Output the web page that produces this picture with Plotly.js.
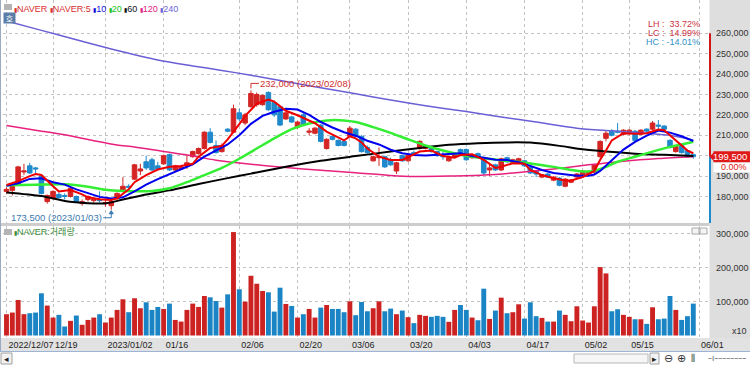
<!DOCTYPE html>
<html><head><meta charset="utf-8">
<script src="https://cdn.plot.ly/plotly-3.0.1.min.js"></script>
<style>html,body{margin:0;padding:0;background:#fff;}#chart{width:750px;height:365px;}</style>
</head><body><div id="chart"></div>
<script>
// ---- data (prices in thousand won, volume in thousand units of x10 shares) ----
const dates = [
'2022/12/07','2022/12/08','2022/12/09','2022/12/12','2022/12/13','2022/12/14','2022/12/15','2022/12/16','2022/12/19','2022/12/20','2022/12/21','2022/12/22','2022/12/23','2022/12/26','2022/12/27','2022/12/28','2022/12/29',
'2023/01/02','2023/01/03','2023/01/04','2023/01/05','2023/01/06','2023/01/09','2023/01/10','2023/01/11','2023/01/12','2023/01/13','2023/01/16','2023/01/17','2023/01/18','2023/01/19','2023/01/20','2023/01/25','2023/01/26','2023/01/27','2023/01/30','2023/01/31',
'2023/02/01','2023/02/02','2023/02/03','2023/02/06','2023/02/07','2023/02/08','2023/02/09','2023/02/10','2023/02/13','2023/02/14','2023/02/15','2023/02/16','2023/02/17','2023/02/20','2023/02/21','2023/02/22','2023/02/23','2023/02/24','2023/02/27','2023/02/28',
'2023/03/02','2023/03/03','2023/03/06','2023/03/07','2023/03/08','2023/03/09','2023/03/10','2023/03/13','2023/03/14','2023/03/15','2023/03/16','2023/03/17','2023/03/20','2023/03/21','2023/03/22','2023/03/23','2023/03/24','2023/03/27','2023/03/28','2023/03/29','2023/03/30','2023/03/31',
'2023/04/03','2023/04/04','2023/04/05','2023/04/06','2023/04/07','2023/04/10','2023/04/11','2023/04/12','2023/04/13','2023/04/14','2023/04/17','2023/04/18','2023/04/19','2023/04/20','2023/04/21','2023/04/24','2023/04/25','2023/04/26','2023/04/27','2023/04/28',
'2023/05/02','2023/05/03','2023/05/04','2023/05/08','2023/05/09','2023/05/10','2023/05/11','2023/05/12','2023/05/15','2023/05/16','2023/05/17','2023/05/18','2023/05/19','2023/05/22','2023/05/23','2023/05/24','2023/05/25','2023/05/26','2023/05/30','2023/05/31'];

const openK = [
182.5,183,186,192,195,194,190,177.5,179,181,
180.5,180,180,176.5,178.5,178,178.5,176.5,175.5,179,
183,185,188.5,192.5,197,198,195,196,200.5,193,
193.5,195,199.5,201,203.5,211.5,205,202,213,211.5,
221,216,224,225,225,231,226,224,218,219,
214,220,211.5,211,215,203.5,209.5,207.5,207,209.5,
213,209.5,204,197.5,199,199.5,198,192.5,200,197.5,
201.5,203.5,203.5,204,202,200,197.5,199.5,203,203,
199,201,199,193,195.5,193,199,196.5,197,197.5,
194.5,192.5,189.5,191,188,189,185,187,189.5,190.5,
191,192,199.5,208.5,212,212,210.5,211,212,210.5,
213,213,215,214.5,207.5,202,205,202.5,200.5];
const highK = [
184.5,185.5,195,196,196.5,194.5,190.5,181,183,182,
181.5,185,180.5,178.5,180.5,179.5,182.5,178.5,178,182,
189.5,186,196,196,200,199,197,200.5,201,195.5,
195.5,200.5,202.5,204,212,213.5,207.5,206,213.5,225,
223,221,232,231,230,231.5,227,224.5,221.5,219.5,
217,221,213.5,214,215.5,208.5,210,208,207.5,214.5,
213.5,210,205,200,204,200,199,197,200.5,200.5,
202.5,207.5,205,204.5,202.5,202,199.5,201,203.5,203.5,
201,201.5,199.5,196,196,199,199.5,198.5,199,198,
195,193,191,191.5,190,189.5,189,188.5,191.5,193,
192.5,196,207.5,212.5,213,216,213,213,212.5,213,
213.5,217,217.5,215,208,205,205.5,203,201];
const lowK = [
181.5,180.5,185.5,190.5,191,191.5,181,176.5,178.5,179,
178.5,179.5,177,175.5,177.5,177,177,175,173.5,178,
182.5,183,188,190.5,193,192.5,193,195.5,192.5,192,
193,193.5,199,200.5,203,206,201,201.5,211.5,211,
217,215,223.5,224,224.5,222,219,214.5,217.5,216,
213,214.5,210,210.5,206.5,203,207.5,204.5,204.5,209,
209,201.5,201,197,195,194,195,191,197,197,
200.5,203,203,201.5,199.5,198,197,199,200,197.5,
198.5,198.5,190.5,190,192.5,192.5,196.5,196,196.5,194.5,
191,189.5,189,189,187.5,185,184.5,186.5,189,190,
190.5,190.5,199,207,209.5,211,210,210,206.5,210,
211.5,212.5,212,212.5,203.5,201.5,201,199,198.5];
const closeK = [
183.5,185,194.5,192.5,191.5,193.5,181.5,180.5,182.5,179.5,
180,184,177.5,177.5,180,178.5,178,177,177.5,181.5,
185,184.5,195.5,193.5,194,193,193.5,200,193,195,
194.5,196.5,202,203.5,211.5,206.5,201.5,205,212,223,
218,220,230.5,230,229.5,222.5,220,215,221,216.5,
216.5,215,212,213.5,207,208,208,205,205,213.5,
209.5,202,201.5,199.5,199.5,194.5,195.5,196.5,197.5,200,
201,207,204.5,202,200,199.5,199,200.5,200.5,198,
200.5,199,191.5,194,193,198.5,197,198,198.5,195,
191.5,191,190.5,189.5,189.5,185.5,188.5,188,191,192.5,
192,195.5,207,211,210,211.5,212.5,212.5,207.5,212.5,
212,216,214.5,213,204,204.5,201.5,199.5,199.5];
const volumeK = [
62.9,67.8,105,63,65.8,67.8,124.7,88.4,53,61,
26.7,43.3,59,31.6,46,53,62.9,38.3,53,75.6,
107,68.8,110,80.5,98.1,75.6,84.4,78.5,94.2,46,
41.1,75.6,94.2,84.4,116.7,112.8,102,82.4,121.6,305.6,
136.5,100,176.5,153,131.5,127.6,70.6,141.2,93.2,87.3,
53,62.9,78.5,53,82.4,90.2,78.5,78.5,68.8,101,
60,99,71.6,80.5,101,71.6,79.5,62.9,73.7,54.1,
36.5,61,58,55.1,58,55.1,40.4,75.6,90.2,75.6,
53,45.1,138.3,49,73.7,111.8,65.8,68.8,92.2,50,
98.1,57,52,41.1,41.1,73.7,61,42.2,86.3,44.2,
38.3,86.3,202,183.4,71.6,77.5,61,55.1,48,48,
34.3,83.4,48,50,116.7,75.6,46,57,94.2];

// moving averages (trading-day index, thousand won)
const ma5Day = [0,2,4,5,6,7,8,9,11,13,14,16,18,19,21,22,24,26,28,30,32,33,35,37,38,40,41,43,45,46,48,50,51,53,55,57,58,59,60,61,62,64,66,68,70,71,73,75,77,78,80,82,84,85,87,89,90,92,94,96,97,99,101,102,103,104,106,108,110,112,113,114,116,117,118];
const ma5Val = [185.6,187.5,190,191,190.5,187.5,185,182.5,183.2,181,179.6,178.6,178.3,179.1,183.5,187,190.5,193.2,194.6,194.9,196,199.5,203.8,204.8,208,215.5,219.5,225.5,227.5,226.5,222,219.8,218.5,215.9,211.8,208.8,207.5,209.5,208.5,206.5,203.5,199.5,197.9,197.9,200.5,202,202.5,199.8,199,200.3,200.7,197.9,194,194.6,196.3,196,193,190.5,188.9,187.8,187.8,189.5,192.5,198,202.5,207.5,211,210.8,211,212.8,212.5,210,205,202.5,201.2];
const ma10Day = [0,2,4,6,8,10,12,14,16,18,20,22,24,26,28,30,32,34,36,38,40,42,44,46,48,50,52,54,56,58,60,62,64,66,68,70,72,74,76,78,80,82,84,86,88,90,92,94,96,98,100,101,102,104,106,108,110,112,114,116,118];
const ma10Val = [185.2,186.5,188.6,188.9,187,185.8,183.5,181.5,179.8,179,179.6,182.5,185.8,188.5,191,193.5,195.8,199.5,202.5,205.5,210,215.6,219.5,221.5,223,222.6,220,216.5,213.8,211.5,209.8,207.3,205.5,202.9,201.2,200.3,200.1,200.3,200.8,201.2,199.8,199,198,197.9,196.8,195,193,191.5,190.8,190.2,190.2,190.8,192.5,197.8,203,206.8,209.8,212.3,211.3,209.5,207.2];
const ma20Day = [0,5,10,14,17,20,25,28,31,34,37,40,43,46,49,52,55,58,60,63,66,69,72,75,78,82,86,90,94,97,99,101,103,105,108,111,114,116,118];
const ma20Val = [185.5,185.8,186,184.8,183.3,182.7,182.7,184,187,190.5,194,198.5,203.5,208.5,213,215.8,217.3,217.3,216.5,214,211.2,208,205,202.5,200.5,198.7,197.5,196.2,194.5,193,192.3,192.5,194.5,197,199.5,202,204.3,205.5,206.8];
const ma60Day = [0,6,10,14,17,20,24,28,33,38,42,48,54,60,66,71,76,81,86,90,95,99,103,108,113,118];
const ma60Val = [182,180.2,177.8,176.7,176.6,178.5,181,183,186.1,189,191.2,194.6,197.5,199.8,202,203.8,205.3,206.1,206.5,206.4,204.8,203.1,202,201,200.4,199.9];
const ma120Day = [0,5,10,15,19,22,27,31,36,42,48,54,60,66,70,76,82,88,94,100,106,112,118];
const ma120Val = [214.8,212.5,210.2,207.3,205.2,204.3,202,200.3,197.8,195.8,194.2,192.8,191.6,190.3,189.8,190,190.5,191.8,193.5,195.5,197.3,198.6,199.5];
const ma240Day = [0,6,12,18,26,32,37,42,48,54,60,66,72,79,85,91,98,104,110,114,118];
const ma240Val = [266,261.4,256.8,252.3,246.9,244,241.8,239.4,236.3,233.3,230.3,227.3,224.5,221.6,219,216.5,213.5,212.2,211,210,207.6];

const tickDates = ['2022/12/07','2022/12/19','2023/01/02','2023/01/16','2023/02/06','2023/02/20','2023/03/06','2023/03/20','2023/04/03','2023/04/17','2023/05/02','2023/05/15','2023/06/01'];
const tickText  = ['2022/12/07','12/19','2023/01/02','01/16','02/06','02/20','03/06','03/20','04/03','04/17','05/02','05/15','06/01'];
const priceTicks = [180000,190000,200000,210000,220000,230000,240000,250000,260000];
const volumeTicks = [100000,200000,300000];
const rangeBarTop = 260000;

// ---- derived ----
const K = 1000;
const xs = dates.map((d,i)=>i);
const O = openK.map(v=>v*K), H = highK.map(v=>v*K), L = lowK.map(v=>v*K), C = closeK.map(v=>v*K);
const V = volumeK.map(v=>v*K);
const up = C.map((c,i)=>c>=O[i]);
const RED = '#d42424', BLUE = '#1f89cc';
const n = C.length, last = C[n-1], prev = C[n-2];
const maxH = Math.max(...H), iMax = H.indexOf(maxH);
const minL = Math.min(...L), iMin = L.indexOf(minL);
const fmt = v => v.toLocaleString('en-US');
const pct = v => (v>=0?'\u00a0':'') + v.toFixed(2) + '%';
const tickPos = tickDates.map(d => { const k = dates.indexOf(d); return k<0 ? n : k; });
// the current-price box covers the nearest price label, as in the original
const priceTickText = priceTicks.map(v => Math.abs(v-last) < 4000 ? '' : fmt(v));

const FONT = '"Liberation Sans Narrow","Arial Narrow","Liberation Sans","Noto Sans CJK KR",sans-serif';
const px = X => (X-3)/706;
const py = Y => (338-Y)/338;

function maTrace(days, vals, color, width, shape){
  return {type:'scatter', mode:'lines', x:days, y:vals.map(v=>v*K), xaxis:'x', yaxis:'y',
    line:{color:color, width:width, shape:shape||'linear', smoothing:0.8}, hoverinfo:'skip'};
}

const traces = [
  {type:'bar', x:xs, y:V, xaxis:'x', yaxis:'y2', width:0.84,
   marker:{color:up.map(u=>u?'#cc2222':'#1a84c4'), line:{width:0}}, hoverinfo:'skip'},
  {type:'candlestick', x:xs, open:O, high:H, low:L, close:C, xaxis:'x', yaxis:'y',
   increasing:{line:{color:RED,width:1}, fillcolor:RED},
   decreasing:{line:{color:BLUE,width:1}, fillcolor:BLUE},
   whiskerwidth:0, hoverinfo:'skip'},
  maTrace(ma240Day, ma240Val, '#6b5fd6', 1.5, 'spline'),
  maTrace(ma120Day, ma120Val, '#e8207e', 1.5, 'spline'),
  maTrace(ma60Day, ma60Val, '#000000', 2, 'spline'),
  maTrace(ma20Day, ma20Val, '#33ee33', 2.5, 'spline'),
  maTrace(ma10Day, ma10Val, '#0000ee', 2, 'linear'),
  maTrace(ma5Day, ma5Val, '#ee0000', 2, 'linear')
];

const grid = {showgrid:true, gridcolor:'#c2c2c2', griddash:'dot', gridwidth:1, zeroline:false, showline:false, ticks:'', fixedrange:true};

const shapes = [
  {type:'rect', xref:'paper', yref:'paper', x0:px(709.5), x1:px(751), y0:py(338), y1:py(-1), fillcolor:'#dedede', line:{width:0}, layer:'below'},
  {type:'rect', xref:'paper', yref:'paper', x0:px(-1), x1:px(751), y0:py(351), y1:py(338), fillcolor:'#e2e2e2', line:{width:0}, layer:'below'},
  {type:'rect', xref:'paper', yref:'paper', x0:px(-1), x1:px(709.5), y0:py(226), y1:py(223), fillcolor:'#cdcdcd', line:{width:0}, layer:'above'},
  {type:'line', xref:'paper', yref:'paper', x0:px(-1), x1:px(751), y0:py(351.5), y1:py(351.5), line:{color:'#9db4d6', width:1}},
  {type:'line', xref:'paper', yref:'paper', x0:px(0.5), x1:px(0.5), y0:py(0), y1:py(351), line:{color:'#9aa9c4', width:1}},
  {type:'line', xref:'paper', yref:'y', x0:px(710), x1:px(710), y0:rangeBarTop, y1:last, line:{color:'#d01818', width:2}},
  {type:'line', xref:'paper', yref:'y', x0:px(710), x1:px(710), y0:last, y1:167000, line:{color:'#1f89cc', width:2}},
  {type:'rect', xref:'paper', yref:'y', xsizemode:'pixel', ysizemode:'pixel', xanchor:px(709.5), yanchor:last, x0:4, x1:42, y0:-5.5, y1:5.5, fillcolor:'#e01818', line:{width:0}},
  {type:'path', xref:'paper', yref:'y', xsizemode:'pixel', ysizemode:'pixel', xanchor:px(709.5), yanchor:last, path:'M0,0 L5,5 L5,-5 Z', fillcolor:'#e01818', line:{width:0}},
  {type:'rect', xref:'paper', yref:'y', xsizemode:'pixel', ysizemode:'pixel', xanchor:px(709.5), yanchor:last, x0:4, x1:42, y0:-15.5, y1:-6, fillcolor:'#ffffff', line:{width:0}},
  // high / low connectors
  {type:'path', xref:'x', yref:'y', xsizemode:'pixel', ysizemode:'pixel', xanchor:iMax, yanchor:maxH, path:'M0,2 L0,7 L8,7', line:{color:'#d03030', width:1}},
  {type:'path', xref:'x', yref:'y', xsizemode:'pixel', ysizemode:'pixel', xanchor:iMin, yanchor:minL, path:'M0,-1 L0,-8 L-8,-8', line:{color:'#3a7ab0', width:1}},
  {type:'path', xref:'x', yref:'y', xsizemode:'pixel', ysizemode:'pixel', xanchor:iMin, yanchor:minL, path:'M-2,-4 L0,-1 L2,-4 Z', fillcolor:'#3a7ab0', line:{color:'#3a7ab0', width:1}},
  // small ui boxes
  {type:'rect', xref:'paper', yref:'paper', x0:px(4), x1:px(12), y0:py(10), y1:py(4), fillcolor:'#b4b4b4', line:{width:0}},
  {type:'rect', xref:'paper', yref:'paper', x0:px(4), x1:px(12), y0:py(235), y1:py(229), fillcolor:'#b4b4b4', line:{width:0}},
  {type:'rect', xref:'paper', yref:'paper', x0:px(692), x1:px(699), y0:py(234), y1:py(228), fillcolor:'#f4f4f4', line:{color:'#aaaaaa', width:1}},
  {type:'rect', xref:'paper', yref:'paper', x0:px(700), x1:px(707), y0:py(234), y1:py(228), fillcolor:'#f4f4f4', line:{color:'#aaaaaa', width:1}},
  {type:'rect', xref:'paper', yref:'paper', x0:px(1), x1:px(12), y0:py(364), y1:py(353), fillcolor:'#f2f2f2', line:{color:'#a0a0a0', width:1}},
  {type:'rect', xref:'paper', yref:'paper', x0:px(574), x1:px(648), y0:py(363), y1:py(354), fillcolor:'#f6f6f6', line:{color:'#b8b8b8', width:1}},
  {type:'rect', xref:'paper', yref:'paper', x0:px(650), x1:px(659), y0:py(364), y1:py(353), fillcolor:'#f2f2f2', line:{color:'#a0a0a0', width:1}}
];

const bar = c => '<span style="color:'+c+';font-size:6px">▮</span>';
const legendHtml =
  bar('#d83030')+'<span style="color:#d83030">NAVER </span>'+bar('#d83030')+'<span style="color:#d83030">NAVER:5 </span>' +
  bar('#1010e0')+'<span style="color:#1010e0">10 </span>' +
  bar('#20c020')+'<span style="color:#20c020">20 </span>' +
  bar('#111111')+'<span style="color:#111111">60 </span>' +
  bar('#e0207f')+'<span style="color:#e0207f">120 </span>' +
  bar('#6b5fd6')+'<span style="color:#6b5fd6">240</span>';

const LH = (maxH-minL)/minL*100, LC = (last-minL)/minL*100, HC = (last-maxH)/maxH*100;

const ann = (o) => Object.assign({showarrow:false, borderpad:0, font:{family:FONT, size:10}}, o);
const annotations = [
  ann({xref:'paper', yref:'paper', x:px(13), y:py(9), xanchor:'left', yanchor:'middle', text:legendHtml, font:{family:FONT, size:9}}),
  ann({xref:'paper', yref:'paper', x:px(9), y:py(18), xanchor:'center', yanchor:'middle', text:'호', bgcolor:'#5b7ea8', width:11, height:10, font:{family:'"Noto Sans CJK KR",sans-serif', size:8, color:'#ffffff'}}),
  ann({xref:'paper', yref:'paper', x:px(701), y:py(24), xanchor:'right', yanchor:'middle', text:'LH :\u00a0\u00a0'+pct(LH).trim(), font:{family:FONT, size:9, color:'#cc3344'}}),
  ann({xref:'paper', yref:'paper', x:px(701), y:py(33), xanchor:'right', yanchor:'middle', text:'LC :\u00a0\u00a0'+pct(LC).trim(), font:{family:FONT, size:9, color:'#cc3344'}}),
  ann({xref:'paper', yref:'paper', x:px(701), y:py(42), xanchor:'right', yanchor:'middle', text:'HC : '+pct(HC), font:{family:FONT, size:9, color:'#2f8fc4'}}),
  ann({xref:'paper', yref:'y', x:px(748), y:last, xanchor:'right', yanchor:'middle', text:fmt(last), font:{family:FONT, size:9.5, color:'#ffffff'}}),
  ann({xref:'paper', yref:'y', x:px(748), y:last, yshift:-10.5, xanchor:'right', yanchor:'middle', text:(((last-prev)/prev*100).toFixed(2))+'%', font:{family:FONT, size:9, color:'#e02020'}}),
  ann({xref:'x', yref:'y', x:iMax, y:maxH, xshift:8, yshift:7, xanchor:'left', yanchor:'middle', text:fmt(maxH)+' ('+dates[iMax]+')', font:{family:FONT, size:9.5, color:'#d03030'}}),
  ann({xref:'x', yref:'y', x:iMin, y:minL, xshift:-8, yshift:-8, xanchor:'right', yanchor:'middle', text:fmt(minL)+' ('+dates[iMin]+')', font:{family:FONT, size:9.5, color:'#3a7ab0'}}),
  ann({xref:'paper', yref:'paper', x:px(13), y:py(232), xanchor:'left', yanchor:'middle', text:bar('#3c8c3c')+'<span style="color:#3c8c3c">NAVER:거래량</span>', font:{family:FONT, size:9}}),
  ann({xref:'paper', yref:'paper', x:px(748), y:py(331), xanchor:'right', yanchor:'middle', text:'x10', font:{family:FONT, size:9, color:'#333'}}),
  ann({xref:'paper', yref:'paper', x:px(6.5), y:py(358.5), xanchor:'center', yanchor:'middle', text:'◂', font:{family:'DejaVu Sans', size:9, color:'#222'}}),
  ann({xref:'paper', yref:'paper', x:px(654.5), y:py(358.5), xanchor:'center', yanchor:'middle', text:'▸', font:{family:'DejaVu Sans', size:9, color:'#222'}}),
  ann({xref:'paper', yref:'paper', x:px(668), y:py(358), xanchor:'center', yanchor:'middle', text:'⊖', font:{family:'DejaVu Sans', size:11, color:'#333'}}),
  ann({xref:'paper', yref:'paper', x:px(681), y:py(358), xanchor:'center', yanchor:'middle', text:'⊕', font:{family:'DejaVu Sans', size:11, color:'#333'}}),
  ann({xref:'paper', yref:'paper', x:px(693), y:py(358), xanchor:'center', yanchor:'middle', text:'⫼', font:{family:'DejaVu Sans', size:9, color:'#333'}}),
  ann({xref:'paper', yref:'paper', x:px(727), y:py(358), xanchor:'center', yanchor:'middle', text:'–ı––––––––', font:{family:'DejaVu Sans', size:8, color:'#555'}})
];

const layout = {
  width:750, height:365, margin:{l:3, r:41, t:0, b:27, pad:0},
  paper_bgcolor:'#ffffff', plot_bgcolor:'#ffffff', showlegend:false, dragmode:false,
  boxgap:0.22, boxgroupgap:0,
  font:{family:FONT, size:10, color:'#222'},
  xaxis:Object.assign({}, grid, {anchor:'y2', range:[-0.6,120.7], tickmode:'array', tickvals:tickPos, ticktext:tickText,
    tickangle:0, rangeslider:{visible:false},
    ticklabelposition:'outside right', ticklabelshift:2, tickfont:{family:FONT, size:9, color:'#222'}, ticklabelstandoff:0}),
  yaxis:Object.assign({}, grid, {domain:[py(223),1], range:[167000,276300], side:'right', anchor:'x',
    tickmode:'array', tickvals:priceTicks, ticktext:priceTickText, tickfont:{family:FONT, size:9, color:'#333'}, ticklabelstandoff:6}),
  yaxis2:Object.assign({}, grid, {domain:[0,py(226)], range:[-7400,323500], side:'right', anchor:'x',
    tickmode:'array', tickvals:volumeTicks, tickformat:',d', tickfont:{family:FONT, size:9, color:'#333'}, ticklabelstandoff:6}),
  shapes:shapes, annotations:annotations
};

Plotly.newPlot('chart', traces, layout, {staticPlot:true, displayModeBar:false});
</script></body></html>
